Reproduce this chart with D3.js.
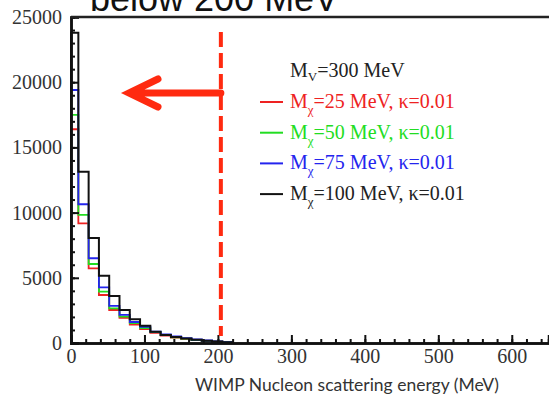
<!DOCTYPE html>
<html>
<head>
<meta charset="utf-8">
<script src="https://cdn.jsdelivr.net/npm/d3@7"></script>
<style>
  html, body { margin: 0; padding: 0; background: #fff; }
  svg { display: block; }
</style>
</head>
<body>
<div id="chart"></div>
<script>
// bin edges (MeV) and per-series counts
var binEdges = [0, 10, 24, 38, 52, 66, 80, 94, 108, 122, 136, 150, 164, 178, 192, 206, 220];
var mx25 = [16390, 9180, 5730, 3680, 2530, 1920, 1420, 1070, 770, 575, 420, 310, 220, 150, 100, 60];
var mx50 = [17490, 9820, 6060, 3940, 2660, 2030, 1530, 1150, 840, 610, 440, 330, 230, 160, 110, 80];
var mx75 = [19400, 10640, 6500, 4270, 2840, 2150, 1610, 1230, 880, 650, 500, 380, 270, 190, 120, 70];
var mx100 = [23800, 13140, 8050, 5160, 3600, 2530, 1820, 1330, 870, 610, 460, 345, 250, 170, 110, 60];
var seriesNames = ["25", "50", "75", "100"];
var seriesColors = ["#ee2222", "#22dd22", "#2424ee", "#111111"];
var yTicks = [0, 5000, 10000, 15000, 20000, 25000];
var xTicks = [0, 100, 200, 300, 400, 500, 600];
var cutEnergy = 204;

var W = 549, H = 400;
var svg = d3.select("#chart").append("svg").attr("width", W).attr("height", H);

var x = d3.scaleLinear().domain([0, 650]).range([71, 548.5]);
var y = d3.scaleLinear().domain([0, 25000]).range([343, 17]);

// title remnant at the top, cut off by the crop
svg.append("text")
  .attr("x", 90).attr("y", 11)
  .style("font-family", "'Liberation Sans', Arial, sans-serif")
  .style("font-size", "36px")
  .attr("fill", "#111")
  .text("below 200 MeV");

// histograms
var allSeries = [mx25, mx50, mx75, mx100];
var step = d3.line().x(function(d) { return x(d[0]); }).y(function(d) { return y(d[1]); }).curve(d3.curveStepAfter);
allSeries.forEach(function(vals, i) {
  var pts = [[binEdges[0], 0]];
  vals.forEach(function(v, j) { pts.push([binEdges[j], v]); });
  pts.push([binEdges[vals.length], 0]);
  svg.append("path")
    .attr("d", step(pts))
    .attr("fill", "none")
    .attr("stroke", seriesColors[i])
    .attr("stroke-width", i == 3 ? 2 : 1.8);
});

// axes, ticks pointing inward
var serif = "'Liberation Serif', 'Times New Roman', serif";
var yAx = svg.append("g").attr("transform", "translate(" + x(0) + ",0)")
  .call(d3.axisLeft(y).tickValues(yTicks).tickSize(-8).tickPadding(9).tickFormat(d3.format("d")));
var yMinor = svg.append("g").attr("transform", "translate(" + x(0) + ",0)")
  .call(d3.axisLeft(y).tickValues(d3.range(0, 25001, 1000)).tickSize(-4).tickFormat(""));
var xAx = svg.append("g").attr("transform", "translate(0," + y(0) + ")")
  .call(d3.axisBottom(x).tickValues(xTicks).tickSize(-8).tickPadding(6).tickFormat(d3.format("d")));
var xMinor = svg.append("g").attr("transform", "translate(0," + y(0) + ")")
  .call(d3.axisBottom(x).tickValues(d3.range(0, 651, 20)).tickSize(-4).tickFormat(""));
[yAx, yMinor, xAx, xMinor].forEach(function(g) {
  g.attr("font-family", null).attr("font-size", null);
  g.select(".domain").attr("stroke", "#111").attr("stroke-width", 2.5);
  g.selectAll(".tick line").attr("stroke", "#111").attr("stroke-width", 2);
  g.selectAll(".tick text").style("font-family", serif).style("font-size", "20px").attr("fill", "#333");
});

// top frame line
svg.append("line")
  .attr("x1", x(0)).attr("x2", W).attr("y1", y(25000)).attr("y2", y(25000))
  .attr("stroke", "#222").attr("stroke-width", 2.5);

// x title
svg.append("text")
  .attr("x", 347).attr("y", 391)
  .attr("text-anchor", "middle")
  .style("font-family", "Lato, 'Open Sans', sans-serif")
  .style("font-size", "17.5px")
  .attr("fill", "#333")
  .text("WIMP Nucleon scattering energy (MeV)");

// red dashed cut line and arrow
var red = "#ff2a10";
svg.append("line")
  .attr("x1", x(cutEnergy)).attr("x2", x(cutEnergy))
  .attr("y1", 32).attr("y2", 336)
  .attr("stroke", red).attr("stroke-width", 4)
  .attr("stroke-dasharray", "15,6");
var ay = 93;
svg.append("path")
  .attr("d", "M" + x(cutEnergy) + "," + ay + "H130 M158,79 L129," + ay + " L158,107")
  .attr("fill", "none").attr("stroke", red).attr("stroke-width", 7)
  .attr("stroke-linecap", "round").attr("stroke-linejoin", "miter");

// legend
var lg = svg.append("g").style("font-family", serif).style("font-size", "20px");
var head = lg.append("text").attr("x", 290).attr("y", 77).attr("fill", "#222");
head.append("tspan").text("M");
head.append("tspan").style("font-size", "13px").attr("dy", 4).text("V");
head.append("tspan").attr("dy", -4).text("=300 MeV");
seriesNames.forEach(function(n, i) {
  var yy = 108 + i * 30.7;
  lg.append("line").attr("x1", 260).attr("x2", 283).attr("y1", yy - 6).attr("y2", yy - 6)
    .attr("stroke", seriesColors[i]).attr("stroke-width", 2);
  var t = lg.append("text").attr("x", 290).attr("y", yy).attr("fill", seriesColors[i] == "#111111" ? "#222" : seriesColors[i]);
  t.append("tspan").text("M");
  t.append("tspan").style("font-size", "13px").attr("dy", 6).text("\u03c7");
  t.append("tspan").attr("dy", -6).text("=" + n + " MeV, \u03ba=0.01");
});
</script>
</body>
</html>
